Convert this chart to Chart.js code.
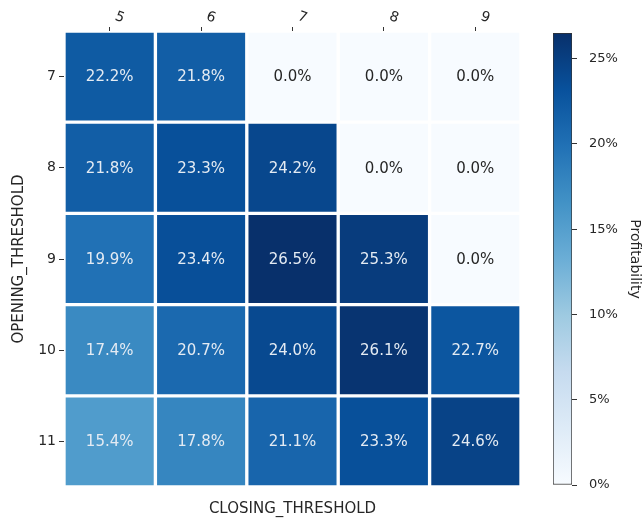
<!DOCTYPE html>
<html>
<head>
<meta charset="utf-8">
<script src="https://cdn.jsdelivr.net/npm/chart.js@4/dist/chart.umd.min.js"></script>
<style>
  body { margin: 0; background: #fff; }
  #wrap { position: relative; width: 643px; height: 522px; }
  #heat { position: absolute; left: 0; top: 0; }
  #bar { position: absolute; left: 540px; top: 0; }
</style>
</head>
<body>
<div id="wrap">
  <canvas id="heat" width="643" height="522"></canvas>
  <canvas id="bar" width="103" height="522"></canvas>
</div>
<script>
const closingLabels = ['5', '6', '7', '8', '9'];
const openingLabels = ['7', '8', '9', '10', '11'];
const open7 = [22.2, 21.8, 0.0, 0.0, 0.0];
const open8 = [21.8, 23.3, 24.2, 0.0, 0.0];
const open9 = [19.9, 23.4, 26.5, 25.3, 0.0];
const open10 = [17.4, 20.7, 24.0, 26.1, 22.7];
const open11 = [15.4, 17.8, 21.1, 23.3, 24.6];
const colorbarTicks = [0, 5, 10, 15, 20, 25];
const rows = [open7, open8, open9, open10, open11];
const vmax = 26.5;

Chart.defaults.font.family = 'DejaVu Sans';
Chart.defaults.font.size = 14;
Chart.defaults.color = '#262626';
Chart.defaults.animation = false;

// matplotlib Blues
const blues = ['#f7fbff', '#deebf7', '#c6dbef', '#9ecae1', '#6baed6', '#4292c6', '#2171b5', '#08519c', '#08306b'];

function hex(h) {
  return [1, 3, 5].map(i => parseInt(h.substr(i, 2), 16));
}

function bluesAt(t) {
  t = Math.max(0, Math.min(1, t));
  const p = t * (blues.length - 1);
  const i = Math.min(Math.floor(p), blues.length - 2);
  const f = p - i;
  const a = hex(blues[i]), b = hex(blues[i + 1]);
  const c = a.map((v, k) => Math.round(v + (b[k] - v) * f));
  return 'rgb(' + c.join(',') + ')';
}

const datasets = rows.map((vals, i) => ({
  data: vals.map(() => [i - 0.5, i + 0.5]),
  values: vals,
  backgroundColor: vals.map(v => bluesAt(v / vmax)),
  borderColor: '#ffffff',
  borderWidth: 2,
  borderSkipped: false,
  grouped: false,
  barPercentage: 1,
  categoryPercentage: 1
}));

const cellText = {
  id: 'cellText',
  afterDatasetsDraw(chart) {
    const c = chart.ctx;
    c.save();
    c.textAlign = 'center';
    c.textBaseline = 'middle';
    c.font = '15px "DejaVu Sans"';
    chart.data.datasets.forEach((ds, i) => {
      chart.getDatasetMeta(i).data.forEach((el, j) => {
        const v = ds.values[j];
        c.fillStyle = v / vmax > 0.4 ? '#e4ebf3' : '#262626';
        c.fillText(v.toFixed(1) + '%', el.x, (el.y + el.base) / 2 + 1);
      });
    });
    c.restore();
  }
};

new Chart(document.getElementById('heat'), {
  type: 'bar',
  data: { labels: closingLabels, datasets: datasets },
  options: {
    responsive: false,
    layout: { padding: { left: 0, right: 122, top: 0, bottom: 0 } },
    plugins: { legend: { display: false }, tooltip: { enabled: false } },
    scales: {
      x: {
        position: 'top',
        offset: true,
        grid: { drawOnChartArea: false, offset: false, tickLength: 4, color: '#333' },
        border: { display: false },
        ticks: { minRotation: -20, maxRotation: -20, padding: 3, color: '#262626' },
        afterFit: s => { s.height = 31; }
      },
      x2: {
        position: 'bottom',
        labels: closingLabels,
        type: 'category',
        grid: { display: false },
        border: { display: false },
        ticks: { display: false },
        title: { display: true, text: 'CLOSING_THRESHOLD', color: '#262626', font: { size: 15 }, padding: { top: 12 } },
        afterFit: s => { s.height = 35; }
      },
      y: {
        type: 'linear',
        min: -0.5,
        max: 4.5,
        reverse: true,
        grid: { drawOnChartArea: false, tickLength: 5, color: '#333' },
        border: { display: false },
        afterBuildTicks: s => { s.ticks = openingLabels.map((l, i) => ({ value: i })); },
        ticks: { callback: v => openingLabels[v], padding: 3, color: '#262626' },
        title: { display: true, text: 'OPENING_THRESHOLD', color: '#262626', font: { size: 15 }, padding: { top: 10, bottom: 4 } },
        afterFit: s => { s.width = 64; }
      }
    }
  },
  plugins: [cellText]
});

new Chart(document.getElementById('bar'), {
  type: 'bar',
  data: {
    labels: ['cb'],
    datasets: [{
      data: [[0, vmax]],
      backgroundColor: ctx => {
        const a = ctx.chart.chartArea;
        if (!a) return blues[4];
        const g = ctx.chart.ctx.createLinearGradient(0, a.bottom, 0, a.top);
        blues.forEach((b, i) => g.addColorStop(i / (blues.length - 1), b));
        return g;
      },
      borderColor: '#333',
      borderWidth: 1,
      borderSkipped: false,
      barPercentage: 1,
      categoryPercentage: 1
    }]
  },
  options: {
    responsive: false,
    layout: { padding: { left: 13, right: 0, top: 33, bottom: 37 } },
    plugins: { legend: { display: false }, tooltip: { enabled: false } },
    scales: {
      x: { display: false },
      y: {
        position: 'right',
        min: 0,
        max: vmax,
        grid: { drawOnChartArea: false, tickLength: 5, color: '#333' },
        border: { display: false },
        afterBuildTicks: s => { s.ticks = colorbarTicks.map(v => ({ value: v })); },
        ticks: { callback: v => v + '%', padding: 12, color: '#262626', font: { size: 13 } },
        title: { display: true, text: 'Profitability', color: '#262626', font: { size: 14 }, padding: { top: 0, bottom: 4 } },
        afterFit: s => { s.width = 71; }
      }
    }
  }
});
</script>
</body>
</html>
